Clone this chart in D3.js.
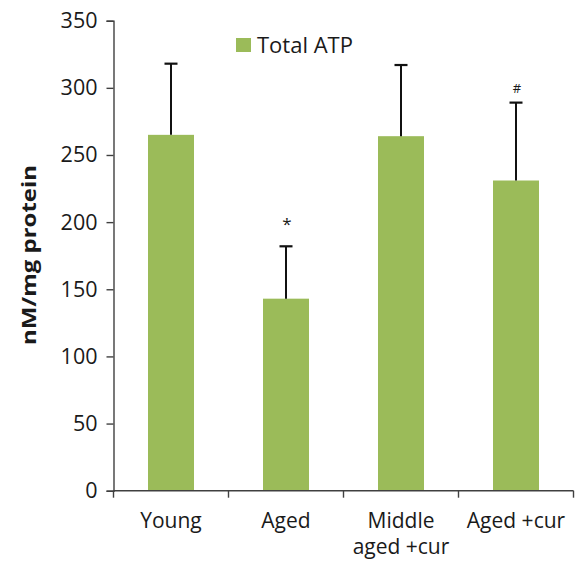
<!DOCTYPE html>
<html>
<head>
<meta charset="utf-8">
<script src="https://cdn.jsdelivr.net/npm/d3@7"></script>
<style>
  body { margin: 0; background: #fff; }
  svg { display: block; }
  text { font-family: "Open Sans", "Liberation Sans", sans-serif; fill: #1a1a1a; }
</style>
</head>
<body>
<svg id="chart" width="579" height="564"></svg>
<script>
// Total ATP per group (nM/mg protein), with SD error bars
const categories = ["Young", "Aged", "Middle\naged +cur", "Aged +cur"];
const totalATP = [265, 143, 264, 231];
const errors = [53, 39, 53, 58];
const markers = ["", "*", "", "#"];
const yTicks = [0, 50, 100, 150, 200, 250, 300, 350];
const seriesName = "Total ATP";

const svg = d3.select("#chart");
const plotLeft = 113.5, plotRight = 573.5, plotTop = 20.7, plotBottom = 490.7;
const barColor = "#9bbb59";
const axisColor = "#404040";

const x = d3.scaleBand()
  .domain(categories)
  .range([plotLeft, plotRight])
  .paddingInner(0.6)
  .paddingOuter(0.3);

const y = d3.scaleLinear().domain([0, 350]).range([plotBottom, plotTop]);

// Y axis
const yAxis = svg.append("g")
  .attr("transform", `translate(${plotLeft},0)`)
  .call(d3.axisLeft(y).tickValues(yTicks).tickSizeOuter(0).tickSize(7).tickPadding(9));
yAxis.select(".domain").attr("stroke", axisColor).attr("stroke-width", 1.4);
yAxis.selectAll(".tick line").attr("stroke", axisColor).attr("stroke-width", 1.4);
yAxis.selectAll(".tick text")
  .style("font-size", "21.5px")
  .attr("fill", "#1a1a1a")
  .style("font-family", "'Open Sans', 'Liberation Sans', sans-serif");

// Bars
svg.append("g").selectAll("rect")
  .data(categories)
  .join("rect")
  .attr("x", d => x(d))
  .attr("width", x.bandwidth())
  .attr("y", (d, i) => y(totalATP[i]))
  .attr("height", (d, i) => plotBottom - y(totalATP[i]))
  .attr("fill", barColor);

// Upper error bars
const eb = svg.append("g").attr("stroke", "#111").attr("stroke-width", 2);
categories.forEach((c, i) => {
  const cx = x(c) + x.bandwidth() / 2;
  const yTop = y(totalATP[i] + errors[i]);
  eb.append("line").attr("x1", cx).attr("x2", cx)
    .attr("y1", y(totalATP[i])).attr("y2", yTop);
  eb.append("line").attr("x1", cx - 6.5).attr("x2", cx + 6.5)
    .attr("y1", yTop).attr("y2", yTop).attr("stroke-width", 2.2);
});

// Significance markers
svg.append("g").selectAll("text")
  .data(categories)
  .join("text")
  .attr("x", d => x(d) + x.bandwidth() / 2 + 1)
  .attr("y", (d, i) => y(totalATP[i] + errors[i]) - (markers[i] === "*" ? 16 : 10))
  .attr("text-anchor", "middle")
  .style("font-size", (d, i) => markers[i] === "*" ? "17px" : "13px")
  .text((d, i) => markers[i]);

// X axis line with ticks at band boundaries
const xAxis = svg.append("g").attr("stroke", axisColor).attr("stroke-width", 1.4);
xAxis.append("line").attr("x1", plotLeft).attr("x2", plotRight).attr("y1", plotBottom).attr("y2", plotBottom);
const bounds = [plotLeft].concat(categories.map(c => x(c) + x.bandwidth() + x.step() * x.paddingInner() / 2));
bounds[bounds.length - 1] = plotRight;
bounds.forEach(b => {
  xAxis.append("line").attr("x1", b).attr("x2", b).attr("y1", plotBottom).attr("y2", plotBottom + 7);
});

// Category labels, one text element per line
const labelLines = categories.flatMap(c =>
  c.split("\n").map((line, j) => ({ cat: c, line, row: j })));
svg.append("g").selectAll("text")
  .data(labelLines)
  .join("text")
  .attr("x", d => x(d.cat) + x.bandwidth() / 2)
  .attr("y", d => 528 + d.row * 26)
  .attr("text-anchor", "middle")
  .style("font-size", "21px")
  .text(d => d.line);

// Y axis title
svg.append("text")
  .attr("transform", "translate(36,255) rotate(-90)")
  .attr("text-anchor", "middle")
  .attr("textLength", 180)
  .attr("lengthAdjust", "spacingAndGlyphs")
  .style("font-size", "20px")
  .style("font-weight", "bold")
  .text("nM/mg protein");

// Legend
const legend = svg.append("g").attr("transform", "translate(236,38)");
legend.append("rect").attr("width", 15).attr("height", 14).attr("fill", barColor);
legend.append("text").attr("x", 21).attr("y", 14.5).style("font-size", "22px").text(seriesName);
</script>
</body>
</html>
